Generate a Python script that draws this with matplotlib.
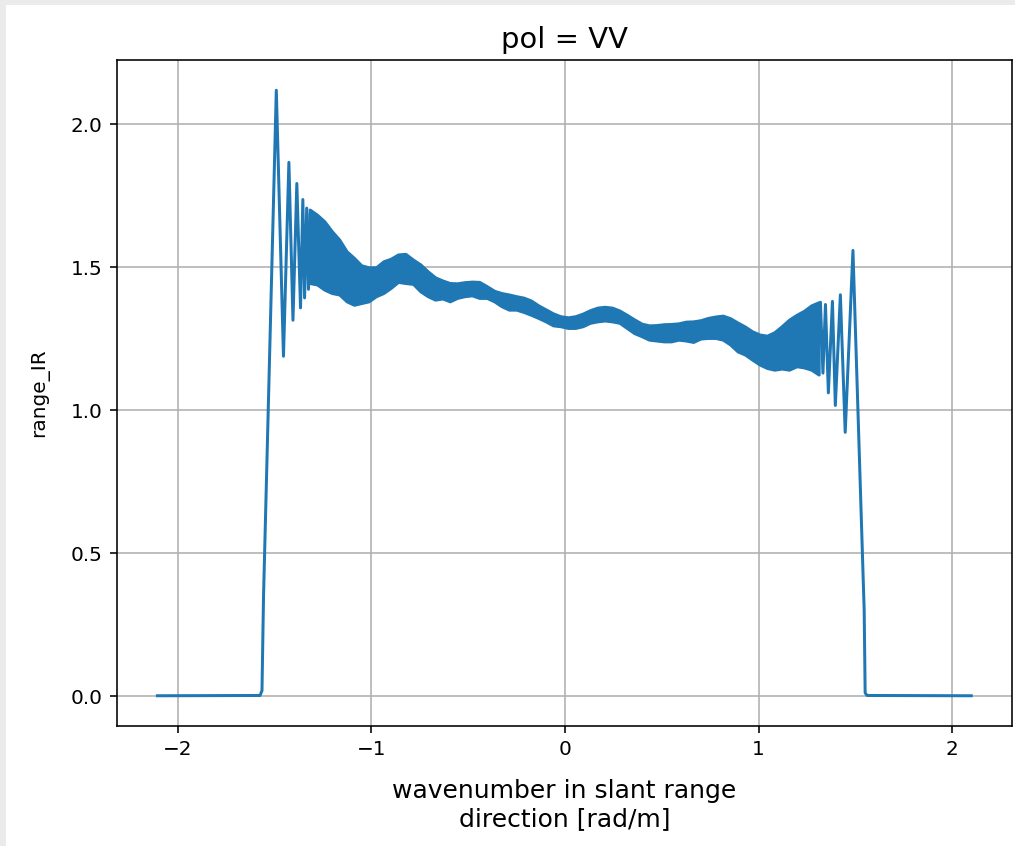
import matplotlib
matplotlib.use("Agg")
import matplotlib.pyplot as plt
from matplotlib.patches import Rectangle
import numpy as np

# edges of the spectrum: flat baseline, steep rise, ringing (k in rad/m, value)
left_k = [-2.105, -1.575, -1.565, -1.557, -1.491, -1.454, -1.426, -1.405,
          -1.385, -1.366, -1.354, -1.345, -1.334, -1.325, -1.316]
left_v = [0.002, 0.003, 0.02, 0.35, 2.119, 1.189, 1.867, 1.315,
          1.793, 1.358, 1.737, 1.393, 1.707, 1.423, 1.685]

right_k = [1.290, 1.305, 1.319, 1.332, 1.345, 1.360, 1.381, 1.396,
           1.422, 1.447, 1.487, 1.545, 1.550, 1.560, 2.098]
right_v = [1.360, 1.130, 1.378, 1.130, 1.370, 1.061, 1.381, 1.017,
           1.404, 0.923, 1.559, 0.300, 0.012, 0.003, 0.002]

# dense oscillating middle part: upper / lower envelope of the band
band_k = [-1.319, -1.281, -1.243, -1.204, -1.166, -1.128, -1.090, -1.052,
          -1.014, -0.976, -0.938, -0.900, -0.862, -0.824, -0.785, -0.747,
          -0.709, -0.671, -0.633, -0.595, -0.557, -0.519, -0.481, -0.443,
          -0.404, -0.366, -0.328, -0.290, -0.252, -0.214, -0.176, -0.138,
          -0.100, -0.062, -0.024, 0.015, 0.053, 0.091, 0.129, 0.167,
          0.205, 0.243, 0.281, 0.319, 0.357, 0.396, 0.434, 0.472,
          0.510, 0.548, 0.586, 0.624, 0.662, 0.700, 0.738, 0.777,
          0.815, 0.853, 0.891, 0.929, 0.967, 1.005, 1.043, 1.081,
          1.119, 1.157, 1.196, 1.234, 1.272, 1.310]
band_hi = [1.702, 1.684, 1.661, 1.626, 1.597, 1.556, 1.533, 1.507,
           1.500, 1.500, 1.521, 1.530, 1.545, 1.547, 1.527, 1.510,
           1.486, 1.465, 1.454, 1.445, 1.444, 1.448, 1.450, 1.449,
           1.434, 1.418, 1.410, 1.405, 1.399, 1.394, 1.384, 1.367,
           1.353, 1.339, 1.329, 1.325, 1.329, 1.338, 1.350, 1.359,
           1.362, 1.359, 1.349, 1.334, 1.318, 1.303, 1.297, 1.298,
           1.301, 1.302, 1.304, 1.310, 1.311, 1.315, 1.323, 1.328,
           1.331, 1.322, 1.307, 1.293, 1.276, 1.265, 1.261, 1.273,
           1.294, 1.317, 1.334, 1.348, 1.367, 1.378]
band_lo = [1.445, 1.440, 1.422, 1.410, 1.405, 1.381, 1.369, 1.375,
           1.381, 1.399, 1.410, 1.428, 1.449, 1.445, 1.442, 1.416,
           1.399, 1.387, 1.391, 1.381, 1.393, 1.399, 1.402, 1.393,
           1.393, 1.381, 1.364, 1.352, 1.352, 1.344, 1.334, 1.323,
           1.311, 1.297, 1.294, 1.288, 1.288, 1.294, 1.306, 1.311,
           1.314, 1.311, 1.306, 1.288, 1.270, 1.259, 1.247, 1.244,
           1.241, 1.241, 1.247, 1.244, 1.239, 1.251, 1.253, 1.253,
           1.247, 1.230, 1.206, 1.195, 1.177, 1.160, 1.148, 1.142,
           1.146, 1.142, 1.154, 1.150, 1.142, 1.125]

fig = plt.figure(figsize=(1015 / 144, 846 / 144), dpi=144)
ax = fig.add_axes([0.115, 0.1418, 0.882, 0.7873])

ax.plot(left_k, left_v, color="C0", lw=1.5)
ax.plot(right_k, right_v, color="C0", lw=1.5)
ax.fill_between(band_k, band_lo, band_hi, facecolor="C0", edgecolor="C0",
                lw=1.5, joinstyle="round")

ax.grid(True)
ax.set_axisbelow(True)
ax.set_title("pol = VV", fontsize=14.5)
ax.set_xlabel("wavenumber in slant range\ndirection [rad/m]", fontsize=12.5,
              labelpad=10)
ax.set_ylabel("range_IR", labelpad=11)

# grey notebook border on the left and top
fig.patches.append(Rectangle((0, 0), 6 / 1015, 1, transform=fig.transFigure,
                             facecolor="#ebebeb", edgecolor="none", zorder=-1))
fig.patches.append(Rectangle((0, 1 - 5 / 846), 1, 5 / 846, transform=fig.transFigure,
                             facecolor="#ebebeb", edgecolor="none", zorder=-1))

fig.savefig("out.png", dpi=144)
